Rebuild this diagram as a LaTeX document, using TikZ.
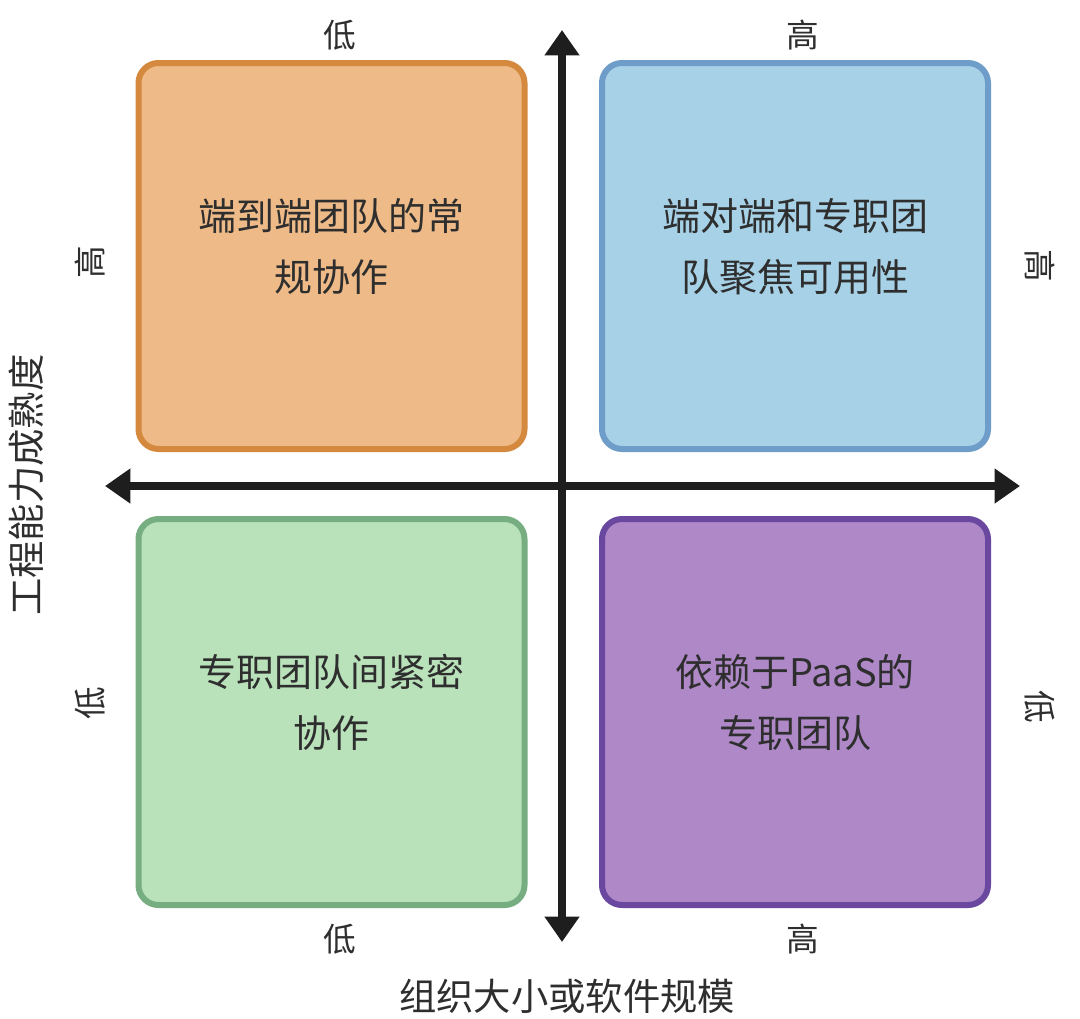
\documentclass[tikz,border=0pt]{standalone}
\usepackage{fontspec}
\setmainfont{Noto Sans CJK SC}
\usetikzlibrary{arrows.meta}
\definecolor{ofill}{HTML}{EEBB88}
\definecolor{oline}{HTML}{D4893F}
\definecolor{bfill}{HTML}{A6D1E6}
\definecolor{bline}{HTML}{6F9DC9}
\definecolor{gfill}{HTML}{B9E2BA}
\definecolor{gline}{HTML}{76AE82}
\definecolor{pfill}{HTML}{AE88C7}
\definecolor{pline}{HTML}{6A48A0}
\definecolor{txt}{HTML}{2E2E2E}
\definecolor{axis}{HTML}{1E1E1E}
\begin{document}
\begin{tikzpicture}[x=0.75pt,y=-0.75pt,
  quad/.style={draw, line width=4.5pt, rounded corners=15pt, minimum width=386*0.75pt, minimum height=386*0.75pt, inner sep=0pt},
  qtext/.style={align=center, text=txt, inner sep=0pt, font=\fontsize{28.5}{46}\selectfont},
  tick/.style={text=txt, font=\fontsize{24.5}{28}\selectfont, inner sep=0pt},
  title/.style={text=txt, font=\fontsize{28}{32}\selectfont, inner sep=0pt},
  ax/.style={draw=axis, line width=6pt, -{Triangle[length=19pt,width=25pt]}}]
\useasboundingbox (0,0) rectangle (1080,1018);
\fill[white] (0,0) rectangle (1080,1018);
% axes
\coordinate (vt) at (562,30);
\coordinate (vb) at (562,942);
\coordinate (hl) at (105,486);
\coordinate (hr) at (1020,486);
\coordinate (c) at (562,486);
\draw[ax] (c) -- (vt);
\draw[ax] (c) -- (vb);
\draw[ax] (c) -- (hl);
\draw[ax] (c) -- (hr);
% quadrants
\node[quad, fill=ofill, draw=oline] (tl) at (331.5,256) {};
\node[quad, fill=bfill, draw=bline] (tr) at (795,256) {};
\node[quad, fill=gfill, draw=gline] (bl) at (331.5,712) {};
\node[quad, fill=pfill, draw=pline] (br) at (795,712) {};
\node[qtext] (tlt) at ([yshift=7pt]tl.center) {端到端团队的常\\规协作};
\node[qtext] (trt) at ([yshift=7pt]tr.center) {端对端和专职团\\队聚焦可用性};
\node[qtext] (blt) at ([yshift=7pt]bl.center) {专职团队间紧密\\协作};
\node[qtext] (brt) at ([yshift=7pt]br.center) {依赖于PaaS的\\专职团队};
% tick labels
\node[tick] (t1) at (340,35) {低};
\node[tick] (t2) at (803,35) {高};
\node[tick] (b1) at (340,939) {低};
\node[tick] (b2) at (803,939) {高};
\node[tick, rotate=90] (l1) at (90,262) {高};
\node[tick, rotate=90] (l2) at (90,703) {低};
\node[tick, rotate=-90] (r1) at (1040,266) {高};
\node[tick, rotate=-90] (r2) at (1040,707) {低};
% titles
\node[title, rotate=90] (ty) at (26,485) {工程能力成熟度};
\node[title] (tx) at (567,996) {组织大小或软件规模};
\end{tikzpicture}
\end{document}
